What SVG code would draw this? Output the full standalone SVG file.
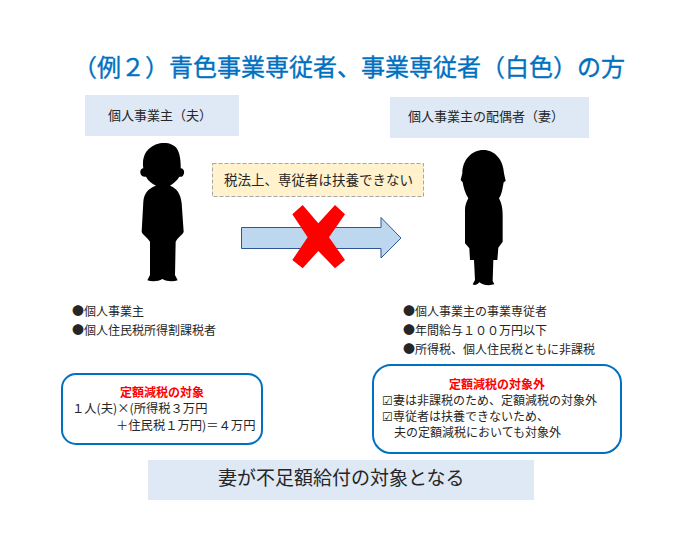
<svg xmlns="http://www.w3.org/2000/svg" width="700" height="543" viewBox="0 0 700 543">
<style>
text{font-family:"Noto Sans CJK JP","Noto Sans",sans-serif;fill:#262626}
.b{fill:#dee9f5}
.t13{font-size:13px}
.l{font-size:12px}
.r{font-size:12px;font-weight:700;fill:#ff0000}
.box{fill:#fff;stroke:#0070c0;stroke-width:2}
</style>
<rect width="700" height="543" fill="#fff"/>
<text id="title" x="73" y="76" style="fill:#0070c0;font-size:24px;stroke:#0070c0;stroke-width:.35">（例２）青色事業専従者、事業専従者（白色）の方</text>
<g id="n1"><rect class="b" x="85" y="95" width="154" height="41"/><text x="108" y="120" class="t13">個人事業主（夫）</text></g>
<g id="n2"><rect class="b" x="390" y="97" width="199" height="41"/><text x="408" y="121" class="t13">個人事業主の配偶者（妻）</text></g>
<g id="man"><path transform="translate(130 135) scale(.3333)" d="M90 25C115 22 130 28 140 40C150 55 153 80 152 100C162 100 165 112 160 120C157 126 152 126 148 125C140 138 130 146 120 152C140 160 152 175 155 205L161 290C158 300 145 305 137 320L135 420L143 436C130 440 110 440 97 432C85 440 65 440 52 436L60 420L60 320C50 305 38 300 35 290L40 200C42 175 55 160 78 152C65 146 55 138 48 125C40 127 32 122 31 113C30 105 35 100 40 100C35 70 45 35 90 25Z"/></g>
<g id="woman"><path transform="translate(440 145) scale(.3333)" d="M130 15C165 15 190 45 192 85L197 108L191 112C188 130 185 150 177 160C185 175 188 190 188 210L188 290L175 308L172 345L160 345L158 408L163 418C150 422 130 422 118 412C110 420 105 422 98 418L105 405L102 345L90 345L88 310L75 295L75 195C75 180 80 170 85 160C75 145 70 125 68 112L62 105L67 85C67 45 95 15 130 15Z"/></g>
<g id="connectors">
<path d="M241.500 227.500H381V217.500L401 238L381 258V248.500H241.500Z" fill="#bdd7ee" stroke="#2f5597" stroke-width="1"/>
</g>
<g id="cross"><path transform="translate(205 155) scale(.3333)" d="M262 178L293 150L340 205L390 150L420 178L372 247L420 315L390 340L340 288L293 340L262 315L308 247Z" fill="#ff0000"/></g>
<g id="note"><rect x="212.500" y="163.500" width="211" height="33" fill="#fff2cc" stroke="#a6a6a6" stroke-dasharray="4 2"/><text x="224" y="185" style="font-size:13.500px">税法上、専従者は扶養できない</text></g>
<g id="left-list"><text x="72" y="316" class="l">●個人事業主</text><text x="72" y="335" class="l">●個人住民税所得割課税者</text></g>
<g id="right-list"><text x="403" y="316" class="l">●個人事業主の事業専従者</text><text x="403" y="335" class="l">●年間給与１００万円以下</text><text x="403" y="354" class="l">●所得税、個人住民税ともに非課税</text></g>
<g id="n3"><rect class="box" x="62" y="374" width="200" height="70" rx="14"/><text x="120" y="397" class="r">定額減税の対象</text><text x="72" y="413" style="font-size:12.300px">１人(夫)×(所得税３万円</text><text x="116" y="430" style="font-size:12.300px">＋住民税１万円)＝４万円</text></g>
<g id="n4"><rect class="box" x="373" y="365" width="248" height="88" rx="18"/><text x="449" y="389" class="r">定額減税の対象外</text><text x="382" y="405" class="l">☑妻は非課税のため、定額減税の対象外</text><text x="382" y="421" class="l">☑専従者は扶養できないため、</text><text x="394" y="437" class="l">夫の定額減税においても対象外</text></g>
<g id="n5"><rect class="b" x="148" y="460" width="386" height="40"/><text x="218" y="485" style="font-size:19px">妻が不足額給付の対象となる</text></g>
</svg>
